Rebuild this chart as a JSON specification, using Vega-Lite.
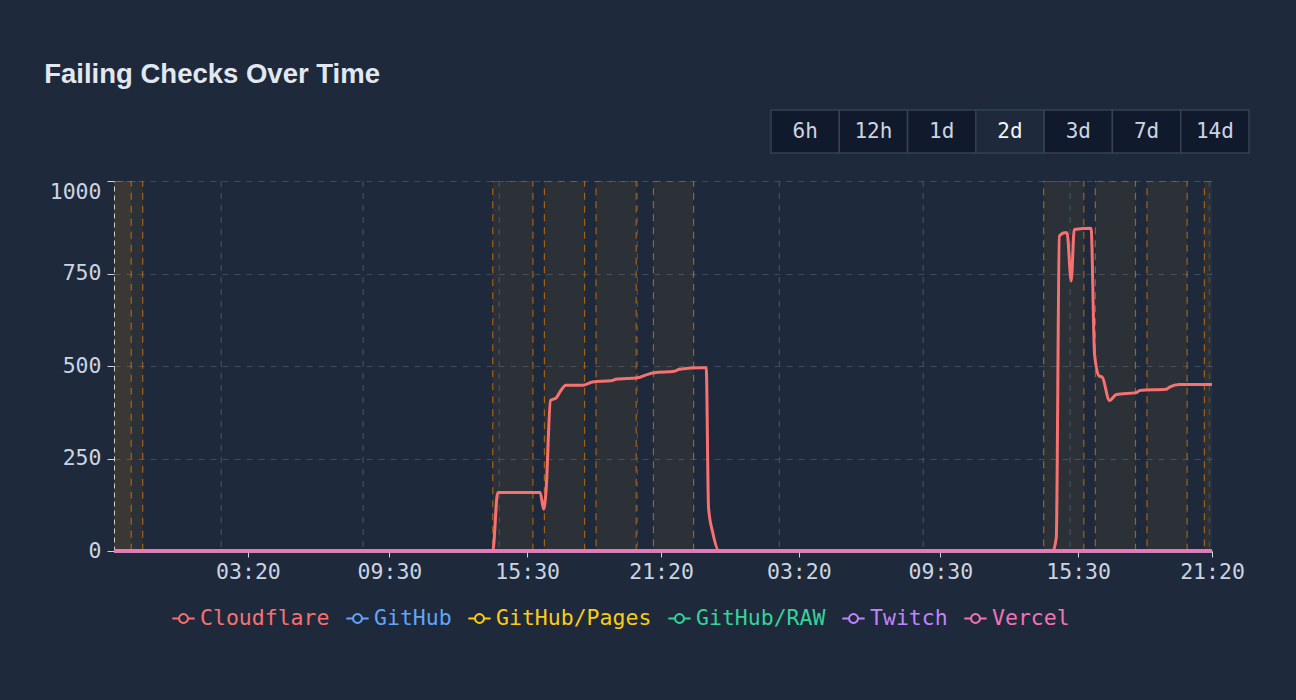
{
  "$schema": "https://vega.github.io/schema/vega-lite/v6.json",
  "background": "#1e293b",
  "padding": {"left": 44, "top": 60, "right": 48, "bottom": 14},
  "spacing": 26,
  "title": {"text": "Failing Checks Over Time", "anchor": "start", "frame": "bounds", "dx": -5, "font": "Liberation Sans", "fontSize": 27.5, "fontWeight": "bold", "color": "#e2e8f0", "offset": 21},
  "datasets": {
    "ranges": [{"range": "6h"}, {"range": "12h"}, {"range": "1d"}, {"range": "2d"}, {"range": "3d"}, {"range": "7d"}, {"range": "14d"}],
    "bands": [
      {"start": "2024-01-01T20:30", "end": "2024-01-01T22:15"},
      {"start": "2024-01-01T21:00", "end": "2024-01-01T22:45"},
      {"start": "2024-01-02T14:00", "end": "2024-01-02T15:45"},
      {"start": "2024-01-02T16:15", "end": "2024-01-02T18:00"},
      {"start": "2024-01-02T18:30", "end": "2024-01-02T20:15"},
      {"start": "2024-01-02T21:00", "end": "2024-01-02T22:45"},
      {"start": "2024-01-03T14:00", "end": "2024-01-03T15:45"},
      {"start": "2024-01-03T16:15", "end": "2024-01-03T18:00"},
      {"start": "2024-01-03T18:30", "end": "2024-01-03T20:15"},
      {"start": "2024-01-03T21:00", "end": "2024-01-03T22:45"}
    ],
    "grid": [
      {"t": "2024-01-02T02:10"}, {"t": "2024-01-02T08:21"}, {"t": "2024-01-02T14:17"}, {"t": "2024-01-02T20:18"},
      {"t": "2024-01-03T02:29"}, {"t": "2024-01-03T08:45"}, {"t": "2024-01-03T15:09"}, {"t": "2024-01-03T21:13"}
    ],
    "series": [
      {"service": "Cloudflare", "t": "2024-01-01T21:30", "failing": 0},
      {"service": "Cloudflare", "t": "2024-01-02T14:00", "failing": 0},
      {"service": "Cloudflare", "t": "2024-01-02T14:13", "failing": 158},
      {"service": "Cloudflare", "t": "2024-01-02T16:04", "failing": 158},
      {"service": "Cloudflare", "t": "2024-01-02T16:13", "failing": 113},
      {"service": "Cloudflare", "t": "2024-01-02T16:19", "failing": 158},
      {"service": "Cloudflare", "t": "2024-01-02T16:31", "failing": 407},
      {"service": "Cloudflare", "t": "2024-01-02T16:46", "failing": 414},
      {"service": "Cloudflare", "t": "2024-01-02T16:57", "failing": 432},
      {"service": "Cloudflare", "t": "2024-01-02T17:11", "failing": 448},
      {"service": "Cloudflare", "t": "2024-01-02T17:55", "failing": 448},
      {"service": "Cloudflare", "t": "2024-01-02T18:21", "failing": 457},
      {"service": "Cloudflare", "t": "2024-01-02T19:09", "failing": 460},
      {"service": "Cloudflare", "t": "2024-01-02T19:22", "failing": 464},
      {"service": "Cloudflare", "t": "2024-01-02T20:19", "failing": 468},
      {"service": "Cloudflare", "t": "2024-01-02T20:41", "failing": 476},
      {"service": "Cloudflare", "t": "2024-01-02T21:02", "failing": 482},
      {"service": "Cloudflare", "t": "2024-01-02T21:55", "failing": 486},
      {"service": "Cloudflare", "t": "2024-01-02T22:08", "failing": 491},
      {"service": "Cloudflare", "t": "2024-01-02T23:05", "failing": 495},
      {"service": "Cloudflare", "t": "2024-01-02T23:18", "failing": 495},
      {"service": "Cloudflare", "t": "2024-01-02T23:24", "failing": 117},
      {"service": "Cloudflare", "t": "2024-01-02T23:35", "failing": 50},
      {"service": "Cloudflare", "t": "2024-01-02T23:52", "failing": 0},
      {"service": "Cloudflare", "t": "2024-01-03T14:24", "failing": 0},
      {"service": "Cloudflare", "t": "2024-01-03T14:33", "failing": 36},
      {"service": "Cloudflare", "t": "2024-01-03T14:41", "failing": 851},
      {"service": "Cloudflare", "t": "2024-01-03T14:55", "failing": 860},
      {"service": "Cloudflare", "t": "2024-01-03T15:01", "failing": 860},
      {"service": "Cloudflare", "t": "2024-01-03T15:12", "failing": 730},
      {"service": "Cloudflare", "t": "2024-01-03T15:20", "failing": 869},
      {"service": "Cloudflare", "t": "2024-01-03T16:04", "failing": 872},
      {"service": "Cloudflare", "t": "2024-01-03T16:13", "failing": 532},
      {"service": "Cloudflare", "t": "2024-01-03T16:25", "failing": 473},
      {"service": "Cloudflare", "t": "2024-01-03T16:33", "failing": 470},
      {"service": "Cloudflare", "t": "2024-01-03T16:52", "failing": 407},
      {"service": "Cloudflare", "t": "2024-01-03T17:10", "failing": 423},
      {"service": "Cloudflare", "t": "2024-01-03T18:02", "failing": 428},
      {"service": "Cloudflare", "t": "2024-01-03T18:11", "failing": 434},
      {"service": "Cloudflare", "t": "2024-01-03T19:20", "failing": 437},
      {"service": "Cloudflare", "t": "2024-01-03T19:29", "failing": 443},
      {"service": "Cloudflare", "t": "2024-01-03T19:55", "failing": 450},
      {"service": "Cloudflare", "t": "2024-01-03T21:20", "failing": 450},
      {"service": "GitHub", "t": "2024-01-01T21:30", "failing": 0},
      {"service": "GitHub", "t": "2024-01-03T21:20", "failing": 0},
      {"service": "GitHub/Pages", "t": "2024-01-01T21:30", "failing": 0},
      {"service": "GitHub/Pages", "t": "2024-01-03T21:20", "failing": 0},
      {"service": "GitHub/RAW", "t": "2024-01-01T21:30", "failing": 0},
      {"service": "GitHub/RAW", "t": "2024-01-03T21:20", "failing": 0},
      {"service": "Twitch", "t": "2024-01-01T21:30", "failing": 0},
      {"service": "Twitch", "t": "2024-01-03T21:20", "failing": 0},
      {"service": "Vercel", "t": "2024-01-01T21:30", "failing": 0},
      {"service": "Vercel", "t": "2024-01-03T21:20", "failing": 0}
    ]
  },
  "vconcat": [
    {
      "spacing": 0,
      "hconcat": [
        {
          "width": 656,
          "height": 43,
          "data": {"values": [{"spacer": ""}]},
          "mark": {"type": "text", "opacity": 0},
          "encoding": {"text": {"field": "spacer"}}
        },
        {
          "width": 478,
          "height": 43,
          "data": {"name": "ranges"},
          "layer": [
            {
              "mark": {"type": "rect", "stroke": "#334155", "strokeWidth": 1.5},
              "encoding": {
                "x": {"field": "range", "type": "nominal", "sort": null, "scale": {"paddingInner": 0, "paddingOuter": 0}, "axis": null},
                "fill": {"condition": {"test": "datum.range === '2d'", "value": "#1e293b"}, "value": "#111a2c"}
              }
            },
            {
              "mark": {"type": "text", "font": "DejaVu Sans Mono", "fontSize": 21, "baseline": "middle"},
              "encoding": {
                "x": {"field": "range", "type": "nominal", "sort": null},
                "text": {"field": "range"},
                "color": {"condition": {"test": "datum.range === '2d'", "value": "#f1f5f9"}, "value": "#cbd5e1"}
              }
            }
          ]
        }
      ]
    },
    {
      "width": 1098,
      "height": 370,
      "layer": [
        {
          "data": {"name": "bands"},
          "mark": {"type": "rect", "clip": true, "fill": "#f59e0b", "fillOpacity": 0.07, "stroke": "#d97706", "strokeOpacity": 0.7, "strokeWidth": 1.2, "strokeDash": [7, 6]},
          "encoding": {
            "x": {"field": "start", "type": "temporal"},
            "x2": {"field": "end"}
          }
        },
        {
          "data": {"name": "grid"},
          "mark": {"type": "rule", "color": "#475569", "strokeDash": [6, 6], "strokeWidth": 1},
          "encoding": {
            "x": {"field": "t", "type": "temporal"}
          }
        },
        {
          "data": {"name": "series"},
          "mark": {"type": "line", "interpolate": "monotone", "strokeWidth": 3},
          "encoding": {
            "x": {
              "field": "t", "type": "temporal",
              "scale": {"domain": [{"year": 2024, "month": 1, "date": 1, "hours": 21, "minutes": 30}, {"year": 2024, "month": 1, "date": 3, "hours": 21, "minutes": 20}]},
              "axis": {
                "title": null,
                "values": [
                  {"year": 2024, "month": 1, "date": 2, "hours": 3, "minutes": 20},
                  {"year": 2024, "month": 1, "date": 2, "hours": 9, "minutes": 30},
                  {"year": 2024, "month": 1, "date": 2, "hours": 15, "minutes": 30},
                  {"year": 2024, "month": 1, "date": 2, "hours": 21, "minutes": 20},
                  {"year": 2024, "month": 1, "date": 3, "hours": 3, "minutes": 20},
                  {"year": 2024, "month": 1, "date": 3, "hours": 9, "minutes": 30},
                  {"year": 2024, "month": 1, "date": 3, "hours": 15, "minutes": 30},
                  {"year": 2024, "month": 1, "date": 3, "hours": 21, "minutes": 20}
                ],
                "format": "%H:%M",
                "grid": false,
                "labelFlush": false,
                "labelOverlap": false,
                "tickColor": "#cbd5e1",
                "tickSize": 6,
                "domainColor": "#cbd5e1",
                "labelPadding": 4
              }
            },
            "y": {
              "field": "failing", "type": "quantitative",
              "scale": {"domain": [0, 1000], "nice": false},
              "axis": {
                "title": null,
                "values": [0, 250, 500, 750, 1000],
                "format": "d",
                "grid": true,
                "gridColor": "#475569",
                "gridDash": [6, 6],
                "gridOpacity": 0.8,
                "domainColor": "#cbd5e1",
                "domainDash": [5, 4],
                "tickColor": "#cbd5e1",
                "tickSize": 7,
                "labelPadding": 6,
                "labelBaseline": {"condition": {"test": "datum.value === 1000", "value": "top"}, "value": "middle"}
              }
            },
            "color": {
              "field": "service", "type": "nominal",
              "scale": {
                "domain": ["Cloudflare", "GitHub", "GitHub/Pages", "GitHub/RAW", "Twitch", "Vercel"],
                "range": ["#f87171", "#60a5fa", "#facc15", "#34d399", "#c084fc", "#f472b6"]
              },
              "legend": {
                "title": null,
                "orient": "bottom",
                "direction": "horizontal",
                "columns": 6,
                "symbolType": "M-1,0H-0.4M0.4,0H1M0.4,0A0.4,0.4,0,1,1,-0.4,0A0.4,0.4,0,1,1,0.4,0Z",
                "symbolSize": 500,
                "symbolStrokeWidth": 2,
                "labelFont": "DejaVu Sans Mono",
                "labelFontSize": 21.5,
                "columnPadding": 12,
                "labelOffset": 4,
                "padding": 57,
                "offset": -34,
                "encode": {
                  "labels": {"update": {"fill": {"scale": "color", "field": "value"}}},
                  "symbols": {"update": {"fill": {"value": "transparent"}}}
                }
              }
            }
          }
        }
      ]
    }
  ],
  "config": {
    "view": {"stroke": null},
    "font": "DejaVu Sans Mono",
    "axis": {"labelFont": "DejaVu Sans Mono", "labelFontSize": 21.5, "labelColor": "#cbd5e1"}
  }
}
